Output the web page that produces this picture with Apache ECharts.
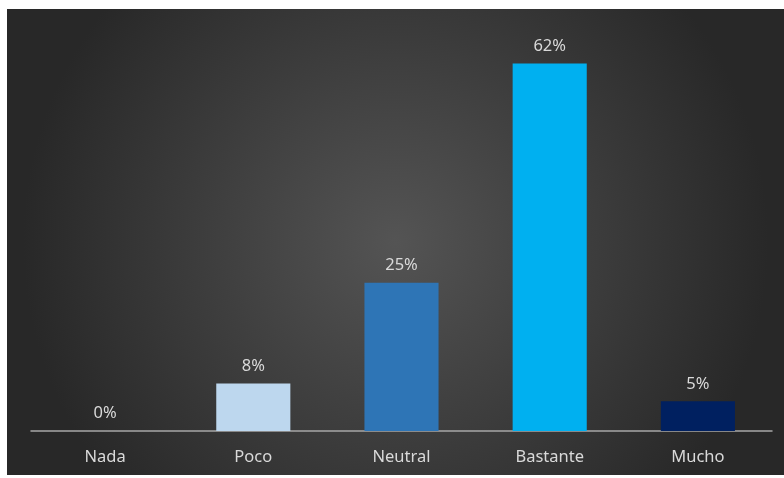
<!DOCTYPE html>
<html>
<head>
<meta charset="utf-8">
<script src="https://cdn.jsdelivr.net/npm/echarts@6/dist/echarts.min.js"></script>
<style>
  html, body { margin: 0; padding: 0; background: #ffffff; }
  #chart { position: absolute; left: 7px; top: 9px; width: 777px; height: 466px; }
</style>
</head>
<body>
<div id="chart"></div>
<script>
const categories = ['Nada', 'Poco', 'Neutral', 'Bastante', 'Mucho']
const values = [0, 0.08, 0.25, 0.62, 0.05]
const barColors = ['#BDD7EE', '#BDD7EE', '#2E75B6', '#00B0F0', '#002060']

const chart = echarts.init(document.getElementById('chart'), null, { renderer: 'canvas' })
const textFont = '"Noto Sans", "Open Sans", sans-serif'

chart.setOption({
  animation: false,
  backgroundColor: {
    type: 'radial',
    x: 0.5,
    y: 0.5,
    r: 0.8,
    colorStops: [
      { offset: 0, color: '#545454' },
      { offset: 1, color: '#282828' }
    ]
  },
  grid: {
    top: 7,
    left: 24,
    right: 12,
    bottom: 44
  },
  xAxis: {
    type: 'category',
    data: categories,
    axisLine: { lineStyle: { color: '#a6a6a6', width: 1.5 } },
    axisTick: { show: false },
    axisLabel: {
      color: '#d9d9d9',
      fontFamily: textFont,
      fontSize: 16.5,
      margin: 18
    }
  },
  yAxis: {
    type: 'value',
    min: 0,
    max: 0.7,
    show: false,
    splitLine: { show: false }
  },
  series: [
    {
      type: 'bar',
      barWidth: '50%',
      data: values.map((v, i) => ({ value: v, itemStyle: { color: barColors[i] } })),
      label: {
        show: true,
        position: 'top',
        distance: 9,
        color: '#d9d9d9',
        fontFamily: textFont,
        fontSize: 16.5,
        formatter: p => Math.round(p.value * 100) + '%'
      }
    }
  ]
})
</script>
</body>
</html>
